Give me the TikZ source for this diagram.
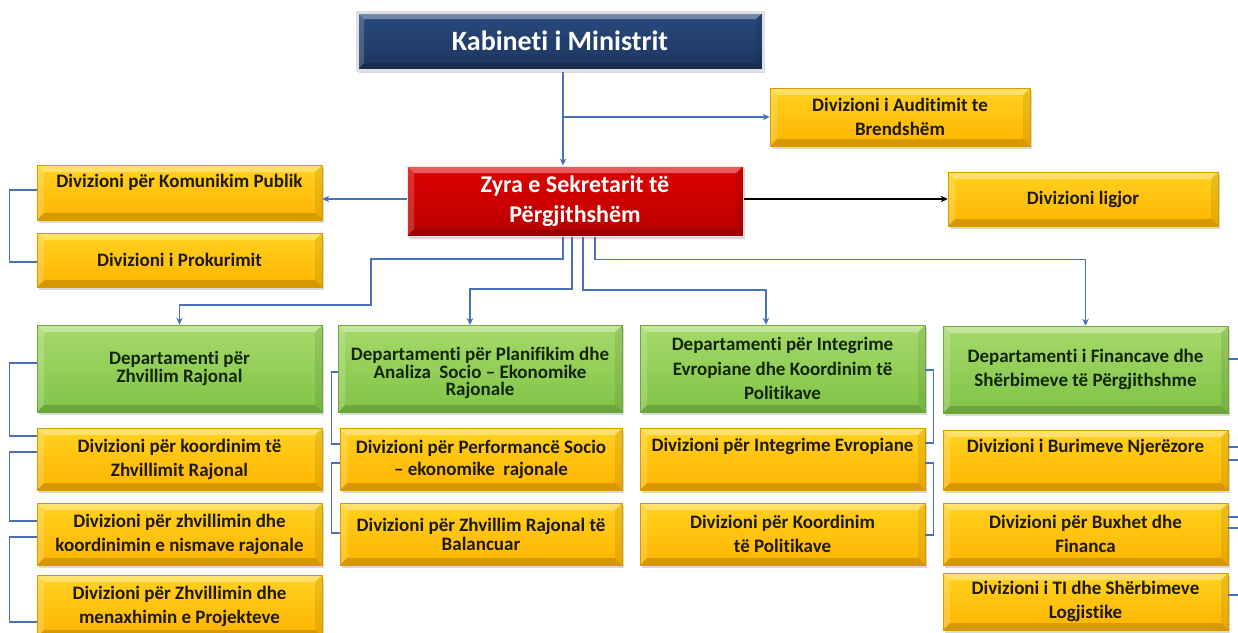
\documentclass[tikz,border=0pt]{standalone}
\usepackage{fontspec}
\setmainfont{Carlito}[RawFeature={-liga;-dlig}]
\usetikzlibrary{arrows.meta,shadows}
\definecolor{connc}{HTML}{4A72B8}
\definecolor{yelT}{HTML}{FFD21F}
\definecolor{yelB}{HTML}{FFB400}
\definecolor{yelD}{HTML}{D99A00}
\definecolor{grnT}{HTML}{A6D96A}
\definecolor{grnB}{HTML}{80C447}
\definecolor{grnD}{HTML}{6AAA36}
\definecolor{navT}{HTML}{2A4A7E}
\definecolor{navB}{HTML}{1C355E}
\definecolor{redT}{HTML}{E00000}
\definecolor{redB}{HTML}{B80000}
\definecolor{gtxt}{HTML}{14260A}
\definecolor{ytxt}{HTML}{1E1A10}
\begin{document}
\begin{tikzpicture}[x=1pt,y=-1pt,
  bev/.style={path picture={
    \fill[white,opacity=0.35] (path picture bounding box.north west) -- (path picture bounding box.north east)
      -- ([xshift=-7pt,yshift=-7pt]path picture bounding box.north east) -- ([xshift=7pt,yshift=-7pt]path picture bounding box.north west) -- cycle;
    \fill[white,opacity=0.18] (path picture bounding box.north west) -- (path picture bounding box.south west)
      -- ([xshift=7pt,yshift=7pt]path picture bounding box.south west) -- ([xshift=7pt,yshift=-7pt]path picture bounding box.north west) -- cycle;
    \fill[black,opacity=0.08] (path picture bounding box.north east) -- (path picture bounding box.south east)
      -- ([xshift=-7pt,yshift=7pt]path picture bounding box.south east) -- ([xshift=-7pt,yshift=-7pt]path picture bounding box.north east) -- cycle;
    \fill[black,opacity=0.16] (path picture bounding box.south west) -- (path picture bounding box.south east)
      -- ([xshift=-7pt,yshift=7pt]path picture bounding box.south east) -- ([xshift=7pt,yshift=7pt]path picture bounding box.south west) -- cycle;
  }},
  basebox/.style={bev, inner sep=0pt, align=center,
    drop shadow={opacity=0.30, shadow xshift=2pt, shadow yshift=-2.5pt}},
  ybox/.style={basebox, top color=yelT, bottom color=yelB, draw=yelD, line width=0.5pt,
    text=ytxt, font={\fontsize{19}{24}\selectfont\bfseries}},
  gbox/.style={basebox, top color=grnT, bottom color=grnB, draw=grnD, line width=0.5pt,
    text=gtxt, font={\fontsize{19}{24.5}\selectfont\bfseries}},
  kbox/.style={basebox, top color=navT, bottom color=navB, draw=black!12, line width=3pt,
    text=white, font={\fontsize{28}{30}\selectfont\bfseries}},
  rbox/.style={basebox, top color=redT, bottom color=redB, draw=black!10, line width=1pt,
    text=white, font={\fontsize{24}{30}\selectfont\bfseries}},
  arr/.style={draw=connc, line width=1.5pt, -{Stealth[length=7pt,width=6.5pt]}},
  barr/.style={draw=black, line width=1.2pt, -{Stealth[length=7pt,width=6.5pt]}},
  brk/.style={draw=connc, line width=1.2pt},
  colw/.style={minimum width=285pt},
]
\useasboundingbox (0,0) rectangle (1238,632);
\fill[white] (0,0) rectangle (1238,632);
\clip (0,0) rectangle (1238,632);

% top level
\node[kbox, minimum width=406pt, minimum height=58pt] (kab) at (560,41) {Kabineti i Ministrit};
\node[ybox, minimum width=260pt, minimum height=58pt] (aud) at (900,117) {Divizioni i Auditimit te\\Brendshëm};
\node[rbox, minimum width=336pt, minimum height=70pt] (zyra) at (575,201) {Zyra e Sekretarit të\\Përgjithshëm};
\node[ybox, colw, minimum height=55pt, text depth=22.5pt] (kom) at (179.5,192.5) {Divizioni për Komunikim Publik};
\node[ybox, colw, minimum height=54pt] (pro) at (179.5,260) {Divizioni i Prokurimit};
\node[ybox, minimum width=270pt, minimum height=54pt] (lig) at (1083,199) {Divizioni ligjor};

% departments
\node[gbox, colw, minimum height=87pt, font={\fontsize{19}{18.5}\selectfont\bfseries}] (d1) at (179.5,368.5) {Departamenti për\\Zhvillim Rajonal};
\node[gbox, minimum width=284pt, minimum height=87pt, font={\fontsize{19}{17.5}\selectfont\bfseries}, text height=58pt] (d2) at (480,368.5) {Departamenti për Planifikim dhe\\Analiza\ \ Socio -- Ekonomike\\Rajonale};
\node[gbox, colw, minimum height=87pt] (d3) at (782.5,368.5) {Departamenti për Integrime\\Evropiane dhe Koordinim të\\Politikave};
\node[gbox, colw, minimum height=87pt] (d4) at (1085.5,369.5) {Departamenti i Financave dhe\\Shërbimeve të Përgjithshme};

% divisions column 1
\node[ybox, colw, minimum height=62pt] (a1) at (179.5,459) {Divizioni për koordinim të\\Zhvillimit Rajonal};
\node[ybox, colw, minimum height=62pt] (b1) at (179.5,534) {Divizioni për zhvillimin dhe\\koordinimin e nismave rajonale};
\node[ybox, colw, minimum height=62pt] (c1) at (179.5,606) {Divizioni për Zhvillimin dhe\\menaxhimin e Projekteve};
% column 2
\node[ybox, minimum width=282pt, minimum height=62pt, font={\fontsize{19}{22}\selectfont\bfseries}] (a2) at (481,459) {Divizioni për Performancë Socio\\-- ekonomike\ \ rajonale};
\node[ybox, minimum width=282pt, minimum height=62pt, font={\fontsize{19}{19}\selectfont\bfseries}] (b2) at (481,534) {Divizioni për Zhvillim Rajonal të\\Balancuar};
% column 3
\node[ybox, colw, minimum height=62pt, text depth=28.5pt] (a3) at (782.5,459) {Divizioni për Integrime Evropiane};
\node[ybox, colw, minimum height=62pt] (b3) at (782.5,534) {Divizioni për Koordinim\\të Politikave};
% column 4
\node[ybox, colw, minimum height=60pt, text depth=28pt] (a4) at (1085.5,460) {Divizioni i Burimeve Njerëzore};
\node[ybox, colw, minimum height=62pt] (b4) at (1085.5,534) {Divizioni për Buxhet dhe\\Financa};
\node[ybox, colw, minimum height=57pt] (c4) at (1085.5,601.5) {Divizioni i TI dhe Shërbimeve\\Logjistike};

% connectors top
\draw[arr] ([xshift=3pt]kab.south) -- ([xshift=3pt]kab.south |- zyra.north);
\draw[arr] ([xshift=3pt]kab.south |- aud.west) -- (aud.west);
\draw[arr] ([yshift=2pt]zyra.west) -- ([yshift=2pt]zyra.west -| kom.east);
\draw[barr] ([yshift=2pt]zyra.east) -- ([yshift=2pt]zyra.east -| lig.west);
\draw[brk] ([yshift=2.5pt]kom.west) -- ++(-27,0) |- ([yshift=-2pt]pro.west);

% connectors to departments
\draw[arr] ([xshift=-12pt]zyra.south) |- (371,259) -- (371,305) -| (d1.north);
\draw[arr] ([xshift=-3pt]zyra.south) |- (470,289) -- (470,325);
\draw[arr] ([xshift=8pt]zyra.south) |- (766,290) -- ([xshift=-16.5pt]d3.north);
\draw[arr] ([xshift=20pt]zyra.south) -- ++(0,23) -| (d4.north);

% brackets column 1
\draw[brk] ([yshift=5.5pt]d1.west) -- ++(-27,0) |- ([yshift=23pt]a1.west);
\draw[brk] ([yshift=7pt]a1.west) -- ++(-27,0) |- ([yshift=13pt]b1.west);
\draw[brk] ([yshift=-3pt]b1.west) -- ++(-27,0) |- ([yshift=-16pt]c1.west);
% brackets column 2
\draw[brk] ([yshift=-3.5pt]d2.west) -- ++(-6,0) |- ([yshift=15pt]a2.west);
\draw[brk] ([yshift=-4pt]a2.west) -- ++(-8,0) |- ([yshift=1pt]b2.west);
% brackets column 3
\draw[brk] ([yshift=-1.5pt]d3.east) -- ++(8,0) |- ([yshift=16pt]a3.east);
\draw[brk] ([yshift=-4pt]a3.east) -- ++(8,0) |- ([yshift=-1pt]b3.east);
% stubs column 4
\draw[brk] ([yshift=10.5pt]d4.east) -- ++(20,0);
\draw[brk] ([yshift=13pt]a4.east) -- ++(20,0);
\draw[brk] ([yshift=0pt]a4.east) -- ++(20,0);
\draw[brk] ([yshift=17pt]b4.east) -- ++(20,0);
\draw[brk] ([yshift=6pt]b4.east) -- ++(20,0);
\draw[brk] ([yshift=6.5pt]c4.east) -- ++(20,0);
\end{tikzpicture}
\end{document}
